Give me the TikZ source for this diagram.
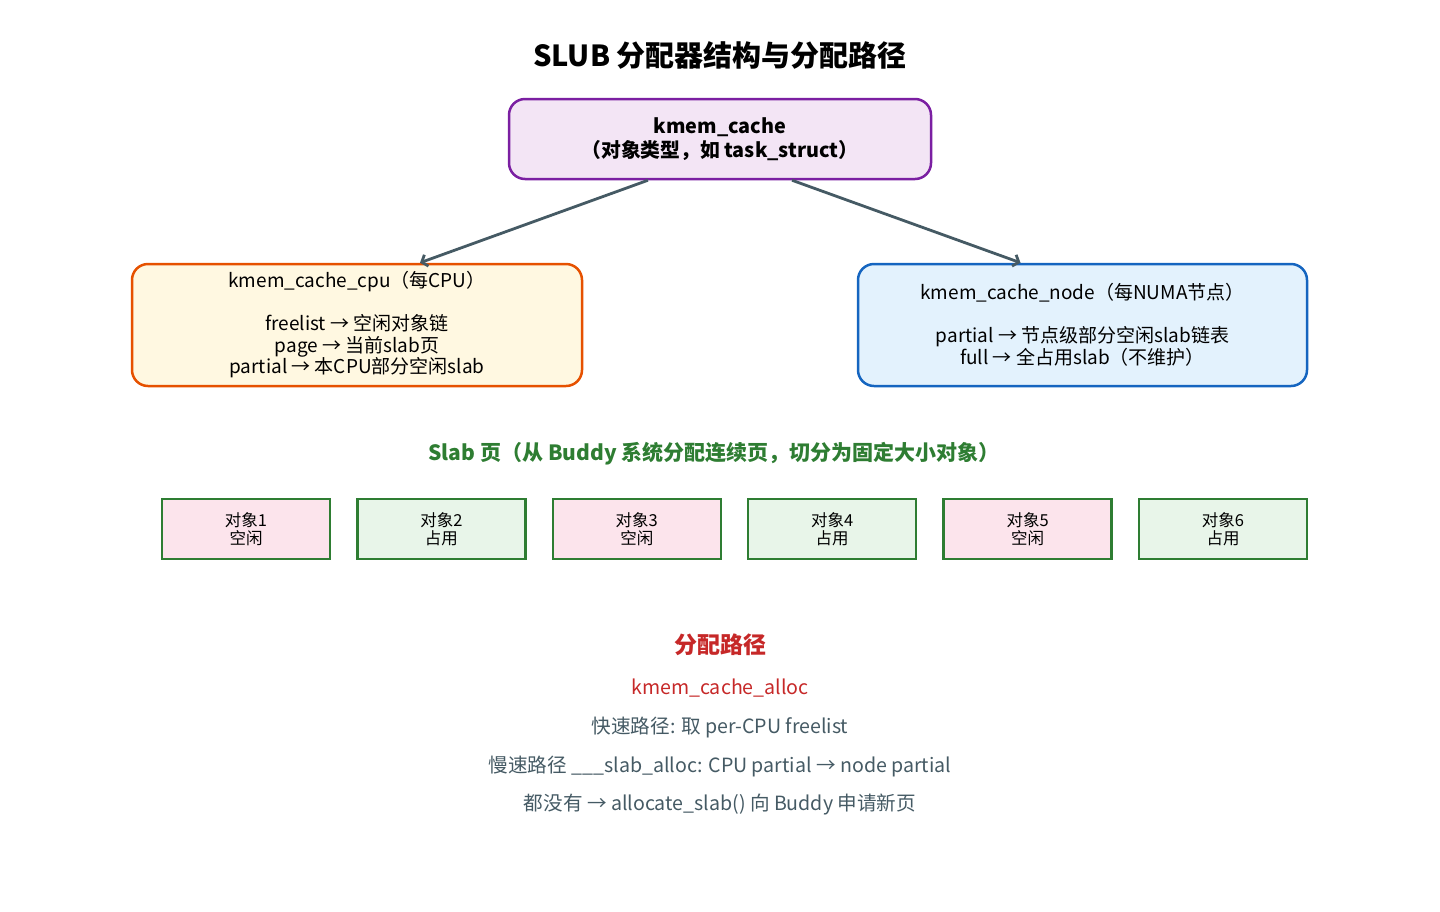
\documentclass[tikz,border=0pt]{standalone}
\usepackage{fontspec}
\setmainfont{Noto Sans CJK SC}
\usetikzlibrary{arrows.meta}

\definecolor{cachefill}{HTML}{F3E5F5}
\definecolor{cachedraw}{HTML}{7B1FA2}
\definecolor{cpufill}{HTML}{FFF8E1}
\definecolor{cpudraw}{HTML}{E65100}
\definecolor{nodefill}{HTML}{E3F2FD}
\definecolor{nodedraw}{HTML}{1565C0}
\definecolor{slabgreen}{HTML}{2E7D32}
\definecolor{objfree}{HTML}{FCE4EC}
\definecolor{objused}{HTML}{E8F5E9}
\definecolor{pathred}{HTML}{C62828}
\definecolor{slate}{HTML}{455A64}

\tikzset{
  box/.style={draw, line width=2.5pt, rounded corners=16pt, align=center, inner sep=0pt},
  objbox/.style={draw=slabgreen, line width=2.5pt, minimum width=168pt, minimum height=60pt,
    align=center, inner sep=0pt, font=\fontsize{16.5}{18}\selectfont},
  link/.style={draw=slate, line width=2.8pt, -{Straight Barb[length=5pt,width=12pt]}},
  pathline/.style={text=slate, font=\fontsize{19.6}{22}\selectfont}
}

\begin{document}
\begin{tikzpicture}[x=1pt,y=-1pt]
\useasboundingbox (0,0) rectangle (1440,911);

\node[font=\bfseries\fontsize{29}{32}\selectfont] (title) at (720,55) {SLUB 分配器结构与分配路径};

\node[box, draw=cachedraw, fill=cachefill, minimum width=422pt, minimum height=80pt,
  font=\bfseries\fontsize{19.8}{24}\selectfont] (cache) at (720,139)
  {kmem\_cache\\（对象类型，如 task\_struct）};

\node[box, draw=cpudraw, fill=cpufill, minimum width=450pt, minimum height=122pt,
  font=\fontsize{19}{21.5}\selectfont] (percpu) at (357,325)
  {kmem\_cache\_cpu（每CPU）\\[21.5pt]freelist → 空闲对象链\\page → 当前slab页\\partial → 本CPU部分空闲slab};

\node[box, draw=nodedraw, fill=nodefill, minimum width=449pt, minimum height=122pt,
  font=\fontsize{19}{21.5}\selectfont] (pernode) at (1082.5,325)
  {kmem\_cache\_node（每NUMA节点）\\[21.5pt]partial → 节点级部分空闲slab链表\\full → 全占用slab（不维护）};

\draw[link] ([xshift=-72pt]cache.south) -- ([xshift=63pt]percpu.north);
\draw[link] ([xshift=72pt]cache.south) -- ([xshift=-62pt]pernode.north);

\node[text=slabgreen, font=\bfseries\fontsize{21}{24}\selectfont] (slabtitle) at (714,454)
  {Slab 页（从 Buddy 系统分配连续页，切分为固定大小对象）};

% slab objects
\foreach \i/\st/\fc in {1/空闲/objfree,2/占用/objused,3/空闲/objfree,4/占用/objused,5/空闲/objfree,6/占用/objused} {
  \node[objbox, fill=\fc] (obj\i) at ({246+(\i-1)*195.4},529) {对象\i\\\st};
}

\node[text=pathred, font=\bfseries\fontsize{23}{26}\selectfont] (pathtitle) at (720,645) {分配路径};
\node[pathline, text=pathred] (alloc) at (720,688) {kmem\_cache\_alloc};
\node[pathline] (fast) at (720,727) {快速路径: 取 per-CPU freelist};
\node[pathline] (slow) at (720,766) {慢速路径 \_\_\_slab\_alloc: CPU partial → node partial};
\node[pathline] (none) at (720,805) {都没有 → allocate\_slab() 向 Buddy 申请新页};
\end{tikzpicture}
\end{document}
